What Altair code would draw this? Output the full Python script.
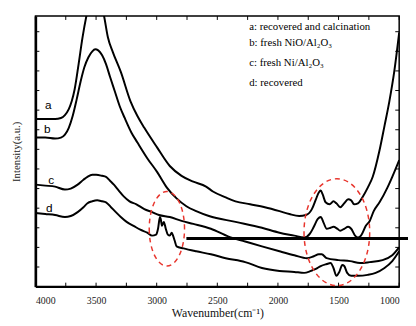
import altair as alt
import pandas as pd

# ---- spectra (wavenumber cm-1, intensity a.u.) ----
wn_a = [4000, 3919, 3838, 3790, 3757, 3725, 3701, 3677, 3644, 3612, 3580, 3547, 3507, 3466, 3434,
        3402, 3361, 3296, 3216, 3159, 3102, 2997, 2892, 2795, 2698, 2593, 2536, 2431, 2350, 2229,
        2108, 1987, 1906, 1825, 1768, 1720, 1687, 1663, 1647, 1631, 1607, 1574, 1542, 1518, 1486,
        1453, 1421, 1396, 1372, 1340, 1299, 1259, 1218, 1162, 1121, 1081, 1041, 1000]
int_a = [171, 171, 171, 172, 175, 181, 189, 201, 227, 254, 276, 294, 304, 294, 276,
         254, 239, 219, 189, 174, 162, 142, 123, 113, 107, 102, 97, 91, 87, 84,
         81, 77, 74, 72, 73, 79, 89, 96, 98, 94, 86, 84, 87, 85, 81,
         85, 89, 88, 84, 85, 92, 101, 112, 139, 164, 189, 219, 259]

wn_b = [4000, 3919, 3838, 3790, 3757, 3725, 3693, 3660, 3628, 3596, 3563, 3531, 3507, 3482, 3450,
        3418, 3385, 3345, 3305, 3264, 3208, 3159, 3078, 2997, 2916, 2836, 2755, 2674, 2569, 2350,
        2132, 1987, 1865, 1784, 1736, 1704, 1671, 1647, 1623, 1598, 1566, 1542, 1510, 1486, 1453,
        1421, 1396, 1364, 1340, 1315, 1275, 1243, 1210, 1162, 1097, 1057, 1000]
int_b = [152, 152, 151, 152, 155, 162, 174, 191, 209, 224, 234, 240, 242, 241, 236,
         227, 214, 199, 184, 172, 157, 147, 131, 117, 101, 90, 82, 77, 72, 66,
         60, 55, 52, 50, 54, 61, 69, 71, 65, 59, 60, 61, 59, 57, 59,
         61, 59, 52, 50, 52, 62, 67, 77, 86, 101, 112, 129]

wn_c = [4000, 3919, 3838, 3757, 3709, 3652, 3604, 3571, 3531, 3499, 3450, 3418, 3385, 3353, 3313,
        3272, 3224, 3167, 3102, 3038, 2981, 2892, 2795, 2698, 2553, 2407, 2270, 2132, 1987, 1865,
        1760, 1704, 1663, 1639, 1598, 1502, 1404, 1323, 1243, 1137, 1057, 1000]
int_c = [104, 103, 102, 99, 100, 104, 109, 112, 114, 114, 113, 112, 108, 104, 98,
         92, 87, 84, 79, 76, 73, 71, 67, 64, 59, 51, 46, 41, 36, 32,
         29, 31, 33, 33, 29, 27, 26, 24, 25, 27, 32, 40]

wn_d = [4000, 3919, 3838, 3757, 3709, 3652, 3604, 3571, 3531, 3491, 3450, 3418, 3377, 3337, 3296,
        3248, 3191, 3135, 3078, 3038, 3005, 2989, 2973, 2965, 2957, 2949, 2941, 2925, 2908, 2892,
        2876, 2868, 2852, 2836, 2779, 2674, 2553, 2431, 2270, 2132, 1987, 1865, 1784, 1728, 1687,
        1647, 1598, 1566, 1542, 1518, 1494, 1469, 1453, 1429, 1396, 1340, 1259, 1194, 1121, 1057, 1000]
int_d = [75, 74, 73, 71, 72, 76, 81, 85, 87, 88, 87, 86, 81, 76, 71,
         66, 62, 58, 55, 52, 53, 59, 71, 68, 62, 64, 66, 59, 53, 52,
         55, 53, 47, 41, 39, 36, 33, 29, 25, 19, 16, 15, 14, 16, 18,
         21, 23, 24, 19, 11, 15, 22, 21, 14, 11, 11, 12, 14, 19, 26, 36]

series_names = ["a", "b", "c", "d"]

# ---- annotations ----
curve_letters = ["a", "b", "c", "d"]
letter_wn = [3895, 3903, 3871, 3887]
letter_int = [185, 161, 109, 80]

legend_lines = ["a: recovered and calcination", "b: fresh NiO/Al₂O₃",
                "c: fresh Ni/Al₂O₃", "d: recovered"]
legend_wn = [2237, 2237, 2237, 2237]
legend_int = [265, 248, 228, 208]

x_ticks = [4000, 3500, 3000, 2500, 2000, 1500, 1000]
x_minor = [4000, 3750, 3500, 3250, 3000, 2750, 2500, 2250, 2000, 1750, 1500, 1250, 1000]
y_minor = [20, 40, 60, 80, 100, 120, 140, 160, 180, 200, 220, 240, 260]

ell1_wn, ell1_int = [2916], [59]
ell2_wn, ell2_int = [1514], [55.5]
hline_wn, hline_wn2, hline_int = [2755], [927], [49]

rows = []
for name, wn, iv in zip(series_names, [wn_a, wn_b, wn_c, wn_d], [int_a, int_b, int_c, int_d]):
    rows += [{"series": name, "wavenumber": w, "intensity": v} for w, v in zip(wn, iv)]
df = pd.DataFrame(rows)

W, H = 371, 276
x_scale = alt.Scale(domain=[4000, 1000], nice=False, zero=False)
y_scale = alt.Scale(domain=[0, 276], nice=False, zero=False)
SERIF = "'Liberation Serif', 'Times New Roman', serif"
SANS = "'Liberation Sans', Arial, sans-serif"

lines = alt.Chart(df).mark_line(color="black", strokeWidth=2, clip=True, interpolate="monotone").encode(
    x=alt.X("wavenumber:Q", scale=x_scale,
            axis=alt.Axis(values=x_ticks, title="Wavenumber(cm⁻¹)", ticks=False, labelPadding=9,
                          labelFont=SERIF, labelFontSize=10, labelColor="#222",
                          titleFont=SERIF, titleFontSize=12, titleFontWeight="normal",
                          titleColor="#111", titlePadding=3, grid=False,
                          domainColor="black", domainWidth=2, format="d")),
    y=alt.Y("intensity:Q", scale=y_scale,
            axis=alt.Axis(labels=False, ticks=False, grid=False, title="Intensity(a.u.)",
                          titleFont=SERIF, titleFontSize=11, titleFontWeight="normal",
                          titleColor="#222", titlePadding=14,
                          domainColor="black", domainWidth=2.5)),
    detail="series:N",
)

xt = pd.DataFrame({"t": x_minor})
yt = pd.DataFrame({"t": y_minor})
tick_bottom = alt.Chart(xt).mark_rule(color="black", strokeWidth=1).encode(
    x=alt.X("t:Q", scale=x_scale), y=alt.value(H), y2=alt.value(H - 4))
tick_top = alt.Chart(xt).mark_rule(color="black", strokeWidth=1).encode(
    x=alt.X("t:Q", scale=x_scale), y=alt.value(0), y2=alt.value(4))
tick_left = alt.Chart(yt).mark_rule(color="black", strokeWidth=1).encode(
    y=alt.Y("t:Q", scale=y_scale), x=alt.value(0), x2=alt.value(4))
tick_right = alt.Chart(yt).mark_rule(color="black", strokeWidth=1).encode(
    y=alt.Y("t:Q", scale=y_scale), x=alt.value(W), x2=alt.value(W - 4))

letters = alt.Chart(pd.DataFrame({"t": curve_letters, "w": letter_wn, "i": letter_int})).mark_text(
    font=SANS, fontSize=12, color="black", align="center", baseline="middle").encode(
    x=alt.X("w:Q", scale=x_scale), y=alt.Y("i:Q", scale=y_scale), text="t:N")

legend = alt.Chart(pd.DataFrame({"t": legend_lines, "w": legend_wn, "i": legend_int})).mark_text(
    font=SERIF, fontSize=11, color="black", align="left", baseline="middle").encode(
    x=alt.X("w:Q", scale=x_scale), y=alt.Y("i:Q", scale=y_scale), text="t:N")

path1 = "M -0.4737 0 A 0.4737 1 0 1 0 0.4737 0 A 0.4737 1 0 1 0 -0.4737 0 Z"
path2 = "M -0.6147 0 A 0.6147 1 0 1 0 0.6147 0 A 0.6147 1 0 1 0 -0.6147 0 Z"
ell1 = alt.Chart(pd.DataFrame({"w": ell1_wn, "i": ell1_int})).mark_point(
    shape=path1, size=5776, filled=False, stroke="#e8352d", strokeWidth=1.5,
    strokeDash=[5, 4], opacity=1).encode(
    x=alt.X("w:Q", scale=x_scale), y=alt.Y("i:Q", scale=y_scale))
ell2 = alt.Chart(pd.DataFrame({"w": ell2_wn, "i": ell2_int})).mark_point(
    shape=path2, size=11881, filled=False, stroke="#e8352d", strokeWidth=1.5,
    strokeDash=[5, 4], opacity=1).encode(
    x=alt.X("w:Q", scale=x_scale), y=alt.Y("i:Q", scale=y_scale))

hline = alt.Chart(pd.DataFrame({"w": hline_wn, "w2": hline_wn2, "i": hline_int})).mark_rule(
    color="black", strokeWidth=3, clip=False).encode(
    x=alt.X("w:Q", scale=x_scale), x2="w2:Q", y=alt.Y("i:Q", scale=y_scale))

chart = alt.layer(lines, tick_bottom, tick_top, tick_left, tick_right, letters, legend,
                  ell1, ell2, hline).properties(
    width=W, height=H,
    autosize=alt.AutoSizeParams(type="none"),
    padding={"left": 28, "top": 5, "right": 9, "bottom": 37},
    background="white",
).configure_view(stroke="black", strokeWidth=1.5)

chart.save("out.html", embed_options={"renderer": "svg", "actions": False})
